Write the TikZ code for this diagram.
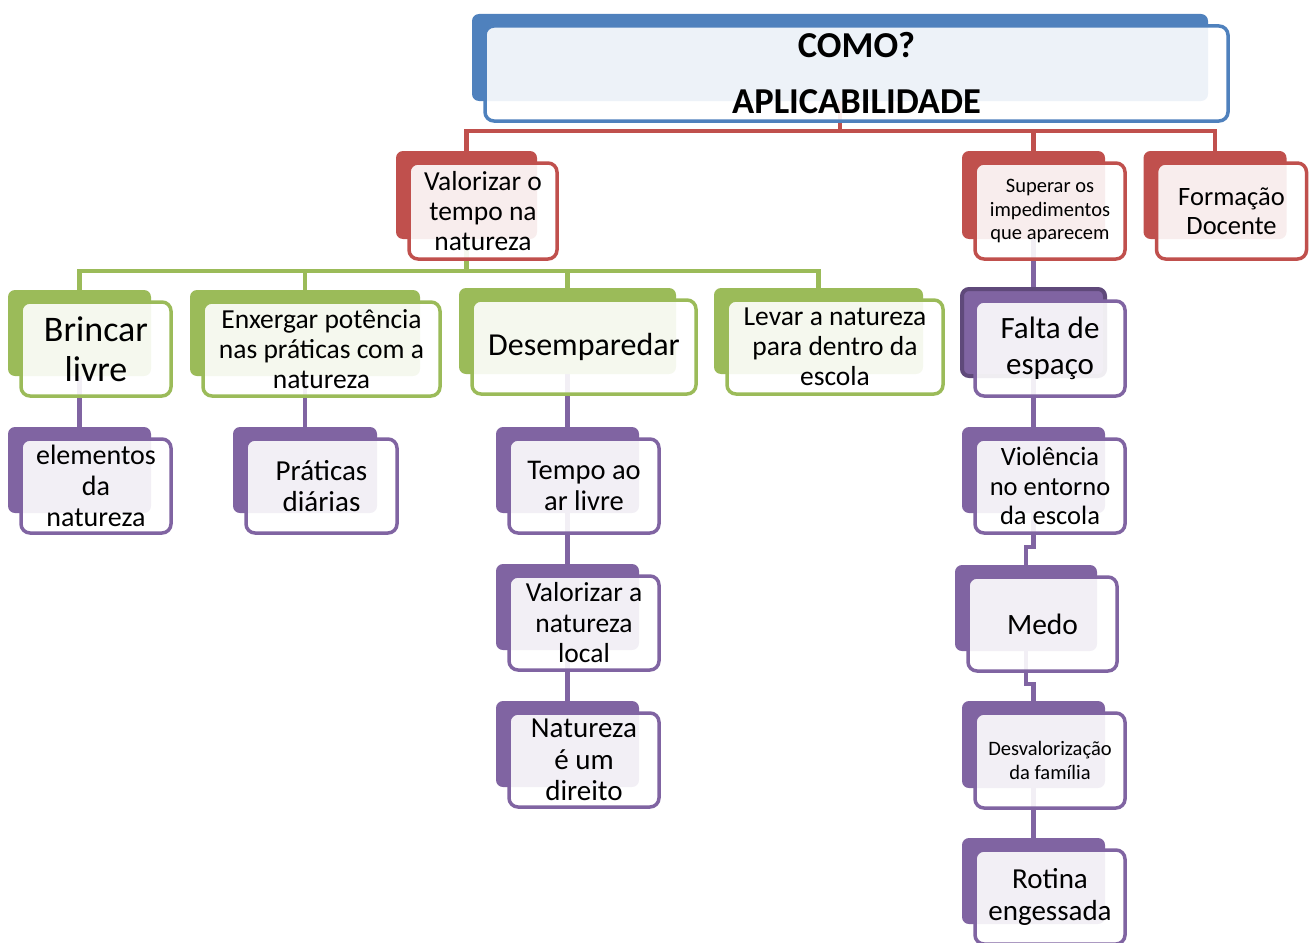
\documentclass[tikz,border=0pt]{standalone}
\usepackage{fontspec}
\setmainfont{Carlito}
\usetikzlibrary{calc}
\pgfdeclarelayer{connl}
\pgfdeclarelayer{backl}
\pgfsetlayers{connl,backl,main}
\definecolor{cblue}{HTML}{4F81BD}
\definecolor{cred}{HTML}{C0504D}
\definecolor{cgreen}{HTML}{9BBB59}
\definecolor{cpurple}{HTML}{8064A2}
\definecolor{cdpurple}{HTML}{5F497A}
\tikzset{
  backbox/.style={rounded corners=7pt, inner sep=0pt, draw=none},
  frontbox/.style={rounded corners=9pt, line width=3.5pt, fill=white, fill opacity=0.9,
    text opacity=1, inner sep=0pt, align=center, text=black},
  conn/.style={line width=4.5pt},
}
\newcommand\dbox[9][]{%
  \begin{pgfonlayer}{backl}
    \node[backbox, fill=#3, minimum width={#6-7}, minimum height={#7-8}, #1] (#2b) at ({#4-16.5},{#5-16}) {};
  \end{pgfonlayer}
  \node[frontbox, draw=#3, minimum width=#6, minimum height=#7, font=#8] (#2) at (#4,#5) {#9};
}
\begin{document}
\begin{tikzpicture}[x=1pt,y=-1pt]
\useasboundingbox (0,0) rectangle (1311,942);

% title
\dbox{title}{cblue}{856.5}{73.5}{743}{95}{\fontsize{36.5}{56}\selectfont\bfseries}{COMO?\\APLICABILIDADE}

% level 1
\dbox{valor}{cred}{483}{211}{148}{96}{\fontsize{27.5}{30}\selectfont}{Valorizar o\\tempo na\\natureza}
\dbox{super}{cred}{1050}{211}{150}{96}{\fontsize{20.5}{23.5}\selectfont}{Superar os\\impedimentos\\que aparecem}
\dbox{form}{cred}{1231.5}{211}{150}{96}{\fontsize{26.5}{29}\selectfont}{Formação\\Docente}

% level 2 (green)
\dbox{brinc}{cgreen}{96}{349}{150}{94}{\fontsize{36}{40}\selectfont}{Brincar\\livre}
\dbox{enx}{cgreen}{321.5}{349}{237}{94}{\fontsize{27.5}{30}\selectfont}{Enxergar potência\\nas práticas com a\\natureza}
\dbox{desemp}{cgreen}{584}{347}{224}{94}{\fontsize{32}{36}\selectfont}{Desemparedar}
\dbox{levar}{cgreen}{835}{347}{216}{94}{\fontsize{27.5}{30}\selectfont}{Levar a natureza\\para dentro da\\escola}

% purple
\dbox[draw=cdpurple, line width=4pt]{falta}{cpurple}{1050}{348.5}{150}{95}{\fontsize{31}{36}\selectfont}{Falta de\\espaço}
\dbox{elem}{cpurple}{96}{486}{150}{94}{\fontsize{28}{31}\selectfont}{elementos\\da\\natureza}
\dbox{prat}{cpurple}{321.5}{486}{151}{94}{\fontsize{29}{31}\selectfont}{Práticas\\diárias}
\dbox{tempo}{cpurple}{584}{486}{150}{94}{\fontsize{28.5}{31}\selectfont}{Tempo ao\\ar livre}
\dbox{valloc}{cpurple}{584}{623}{150}{94}{\fontsize{27.5}{30.5}\selectfont}{Valorizar a\\natureza\\local}
\dbox{direito}{cpurple}{584}{760}{150}{94}{\fontsize{29}{31.5}\selectfont}{Natureza\\é um\\direito}
\dbox{viol}{cpurple}{1050}{486}{150}{94}{\fontsize{26.5}{29.5}\selectfont}{Violência\\no entorno\\da escola}
\dbox{medo}{cpurple}{1042.5}{624}{149}{94}{\fontsize{29.5}{34}\selectfont}{Medo}
\dbox{desv}{cpurple}{1050}{760.5}{150}{95}{\fontsize{20.5}{24}\selectfont}{Desvalorização\\da família}
\dbox{rot}{cpurple}{1050}{897}{150}{94}{\fontsize{29}{32}\selectfont}{Rotina\\engessada}

% connectors
\begin{pgfonlayer}{connl}
  \coordinate (rbus) at (840,131);
  \draw[conn,cred] (titleb.center) -- (titleb.center |- rbus) -| (valorb.center);
  \draw[conn,cred] (titleb.center |- rbus) -| (superb.center);
  \draw[conn,cred] (titleb.center |- rbus) -| (formb.center);

  \coordinate (gbus) at (466,271);
  \draw[conn,cgreen] (valorb.center) -- (valorb.center |- gbus) -| (brincb.center);
  \draw[conn,cgreen] (valorb.center |- gbus) -| (enxb.center);
  \draw[conn,cgreen] (valorb.center |- gbus) -| (desempb.center);
  \draw[conn,cgreen] (valorb.center |- gbus) -| (levarb.center);

  \draw[conn,cpurple] (brincb.center) -- (elemb.center);
  \draw[conn,cpurple] (enxb.center) -- (pratb.center);
  \draw[conn,cpurple] (desempb.center) -- (tempob.center);
  \draw[conn,cpurple] (tempob.center) -- (vallocb.center);
  \draw[conn,cpurple] (vallocb.center) -- (direitob.center);

  \draw[conn,cpurple] (superb.center) -- (faltab.center);
  \draw[conn,cpurple] (faltab.center) -- (violb.center);
  \coordinate (j1) at (1030,547);
  \draw[conn,cpurple] (violb.center) |- (medob.center |- j1) -- (medob.center);
  \coordinate (j2) at (1030,684);
  \draw[conn,cpurple] (medob.center) |- (desvb.center |- j2) -- (desvb.center);
  \draw[conn,cpurple] (desvb.center) -- (rotb.center);
\end{pgfonlayer}
\end{tikzpicture}
\end{document}
